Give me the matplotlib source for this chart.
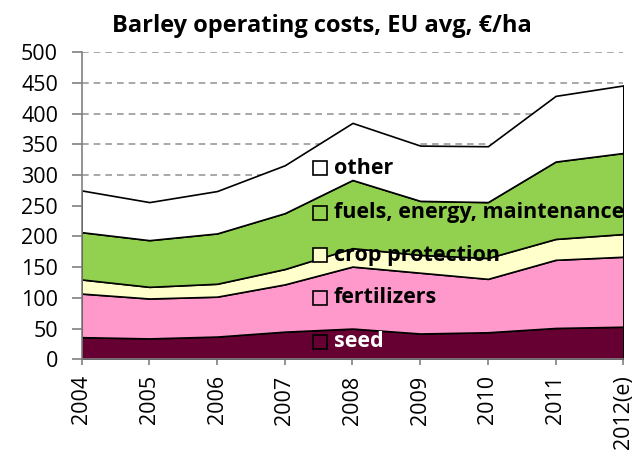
import matplotlib.pyplot as plt

years = ['2004', '2005', '2006', '2007', '2008', '2009', '2010', '2011', '2012(e)']
seed = [36, 34, 37, 45, 50, 42, 44, 51, 53]
fertilizers = [71, 65, 65, 77, 101, 99, 87, 111, 114]
crop_protection = [23, 19, 21, 25, 30, 29, 34, 34, 37]
fuels = [77, 76, 82, 91, 111, 88, 91, 126, 132]
other = [68, 62, 69, 78, 93, 90, 91, 107, 110]

labels = ['seed', 'fertilizers', 'crop protection', 'fuels, energy, maintenance', 'other']
colors = ['#660033', '#FF99CC', '#FFFFCC', '#92D050', '#FFFFFF']

plt.rcParams['font.family'] = ['Open Sans', 'DejaVu Sans']

fig = plt.figure(figsize=(6.43, 4.57), dpi=100)
ax = fig.add_axes([0.127, 0.2138, 0.8424, 0.6718])

x = list(range(len(years)))
ax.stackplot(x, seed, fertilizers, crop_protection, fuels, other,
             colors=colors, edgecolor='black', linewidth=1.2, zorder=2)

ax.set_xlim(0, len(years) - 1)
ax.set_ylim(0, 500)
ax.set_yticks(range(0, 501, 50))
ax.set_xticks(x)
ax.set_xticklabels(years, rotation=90, fontsize=15.5)
ax.tick_params(axis='y', labelsize=15.5, length=7, color='#808080', width=1.2, pad=10)
ax.tick_params(axis='x', length=4.5, color='#808080', width=1.2, pad=7)

ax.set_axisbelow(True)
ax.yaxis.grid(True, color='#999999', linestyle=(0, (4, 3)), linewidth=1.2, zorder=0)

for s in ['top', 'right']:
    ax.spines[s].set_visible(False)
for s in ['left', 'bottom']:
    ax.spines[s].set_color('#808080')
    ax.spines[s].set_linewidth(1.2)
    ax.spines[s].set_zorder(3)

fig.text(0.5, 0.93, 'Barley operating costs, EU avg, €/ha', fontsize=17,
         fontweight='bold', ha='center', va='baseline')

# in-plot legend, top to bottom
ys = [0.0564, 0.1997, 0.3397, 0.4766, 0.623]
for lab, col, yy in zip(labels, colors, ys):
    ax.plot([0.44], [yy], marker='s', markersize=10.5, markerfacecolor=col,
            markeredgecolor='black', markeredgewidth=1.2,
            transform=ax.transAxes, clip_on=False, zorder=5)
    tc = 'white' if lab == 'seed' else 'black'
    ax.text(0.466, yy, lab, transform=ax.transAxes, fontsize=15.5,
            fontweight='bold', color=tc, va='center', ha='left', zorder=5)

fig.savefig('out.png', dpi=100)
